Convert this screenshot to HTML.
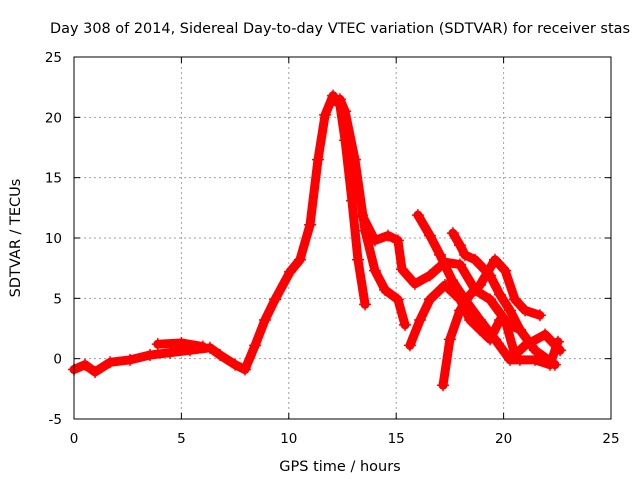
<!DOCTYPE html>
<html><head><meta charset="utf-8"><style>
body{margin:0;background:#fff;}
svg text{font-family:"DejaVu Sans","Liberation Sans",sans-serif;font-size:13.5px;fill:#000;}
</style></head><body>
<svg id="chart" width="640" height="480">
<text x="50" y="33" textLength="580" lengthAdjust="spacingAndGlyphs" style="font-size:14px">Day 308 of 2014, Sidereal Day-to-day VTEC variation (SDTVAR) for receiver stas</text>
<g id="grid"></g><g id="series"></g><g id="axes"></g>
<text x="340" y="471" text-anchor="middle" style="font-size:14.5px">GPS time / hours</text>
<text transform="translate(20,238) rotate(-90)" text-anchor="middle" style="font-size:14.5px">SDTVAR / TECUs</text>
</svg>
<script>
const xTicks=[0,5,10,15,20,25];
const yTicks=[-5,0,5,10,15,20,25];
const t1x=[0,0.51,0.98,1.68,2.61,3.54,4.47,5.4,6.33,6.8,7.5,7.96,8.43,8.89,9.36,10.06,10.52,10.99,11.36,11.69,12.06,12.38,12.62,12.94,13.22,13.55];
const t1y=[-0.9,-0.5,-1.1,-0.3,-0.1,0.3,0.5,0.7,0.9,0.3,-0.5,-0.9,1.1,3.2,4.9,7.2,8.2,11.1,16.5,20.2,21.8,21.0,18.1,13.1,8.2,4.5];
const t2x=[12.38,12.62,13.08,13.55,14.01,14.48,15.08,15.41];
const t2y=[21.5,20.5,16.5,10.6,7.3,5.7,4.9,2.8];
const t3x=[13.41,14.01,14.62,15.08,15.27,15.87,16.57,17.27,17.97,18.67,19.37,20.07,20.53,21.0,21.93,22.63];
const t3y=[11.9,9.8,10.2,9.8,7.4,6.2,6.9,8.0,7.8,5.7,4.9,3.2,0.3,1.1,2.0,0.7];
const t4x=[16.01,16.57,17.04,17.6,18.2,18.9,19.6,20.3,20.76,21.46,22.16,22.53];
const t4y=[11.9,10.2,8.6,6.5,4.9,3.2,1.6,-0.1,-0.1,-0.1,-0.5,1.4];
const t5x=[17.18,17.5,17.97,18.44,18.9,19.6,20.07,20.53,21.0,21.69];
const t5y=[-2.2,1.6,4.0,5.3,6.1,8.2,7.3,4.9,4.0,3.6];
const t6x=[17.64,17.97,18.2,18.67,19.37,19.83,20.3,20.76,21.46,22.39];
const t6y=[10.4,9.4,8.6,8.2,6.9,5.3,4.0,2.4,0.7,-0.5];
const t7x=[15.64,16.11,16.57,17.27,17.97,18.44,18.9,19.37,19.83,20.76];
const t7y=[1.1,3.2,4.9,6.1,4.9,3.2,2.4,1.6,3.2,2.4];
const t8x=[3.9,5.0,6.0];
const t8y=[1.2,1.3,1.0];
const NS='http://www.w3.org/2000/svg';
const X0=74,X1=611,Y0=419,Y1=57;
function sx(v){return X0+(v-0)/25*(X1-X0);}
function sy(v){return Y0-(v+5)/30*(Y0-Y1);}
function mk(t,a,p){const e=document.createElementNS(NS,t);for(const k in a)e.setAttribute(k,a[k]);p.appendChild(e);return e;}
const grid=document.getElementById('grid'),axes=document.getElementById('axes'),ser=document.getElementById('series');
xTicks.forEach(v=>{
 if(v>0&&v<25){const l=mk('line',{x1:sx(v),x2:sx(v),y1:Y1,y2:Y0,stroke:'#a0a0a0','stroke-dasharray':'2,3'},grid);
 
 }
 const t=mk('text',{x:sx(v),y:Y0+24,'text-anchor':'middle'},axes);t.textContent=v;
 
 
 mk('line',{x1:sx(v),x2:sx(v),y1:Y0,y2:Y0-6,stroke:'#000'},axes);
 mk('line',{x1:sx(v),x2:sx(v),y1:Y1,y2:Y1+6,stroke:'#000'},axes);
});
yTicks.forEach(v=>{
 if(v>-5&&v<25){const l=mk('line',{x1:X0,x2:X1,y1:sy(v),y2:sy(v),stroke:'#a0a0a0','stroke-dasharray':'2,3'},grid);
 
 }
 const t=mk('text',{x:X0-12,y:sy(v)+5,'text-anchor':'end'},axes);t.textContent=v;
 
 
 mk('line',{x1:X0,x2:X0+6,y1:sy(v),y2:sy(v),stroke:'#000'},axes);
 mk('line',{x1:X1,x2:X1-6,y1:sy(v),y2:sy(v),stroke:'#000'},axes);
});
const fr=mk('rect',{x:X0,y:Y1,width:X1-X0,height:Y0-Y1,fill:'none',stroke:'#000'},axes);


[[t1x,t1y],[t2x,t2y],[t3x,t3y],[t4x,t4y],[t5x,t5y],[t6x,t6y],[t7x,t7y],[t8x,t8y]].forEach((s,i)=>{
 const pts=s[0].map((x,j)=>sx(x)+','+sy(s[1][j])).join(' ');
 const pl=mk('polyline',{points:pts,fill:'none',stroke:'#ff0000','stroke-width':9,'stroke-linejoin':'round','stroke-linecap':'round'},ser);
 
 
 s[0].forEach((x,j)=>{
  const cx=sx(x),cy=sy(s[1][j]);
  const p=mk('path',{d:`M${cx-6},${cy}h12M${cx},${cy-6}v12`,stroke:'#ff0000','stroke-width':1.5},ser);
  
  
 });
});
</script>
</body></html>
